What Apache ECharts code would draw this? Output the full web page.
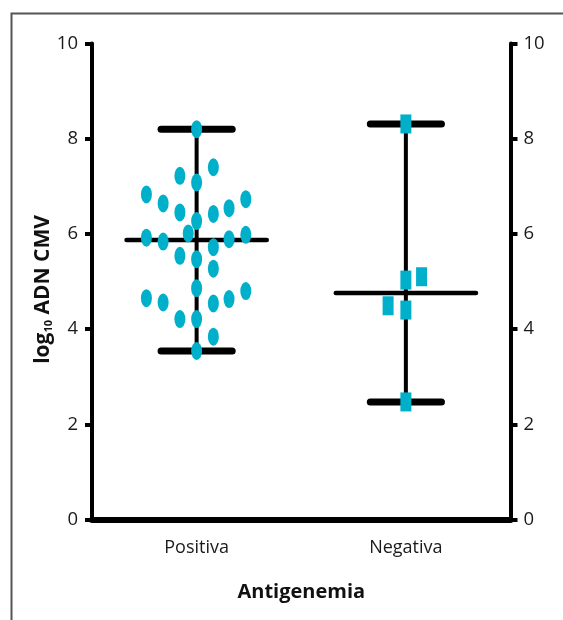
<!DOCTYPE html>
<html>
<head>
<meta charset="utf-8">
<script src="https://cdn.jsdelivr.net/npm/echarts@6/dist/echarts.min.js"></script>
<style>
html,body{margin:0;padding:0;background:#fff;}
#chart{width:563px;height:620px;}
</style>
</head>
<body>
<div id="chart"></div>
<script>
// ---- data ----
const categories = ['Positiva', 'Negativa'];
const yTicks = [0, 2, 4, 6, 8, 10];
// positions on a 0..4 scale (category centres at 1 and 3), jitter
const positivaX = [1.00, 0.84, 1.16, 1.00, 0.52, 0.68, 1.47, 1.31, 0.84, 1.16,
                   1.00, 0.92, 0.52, 0.68, 1.31, 1.47, 1.16, 0.84, 1.00, 1.16,
                   1.00, 0.52, 0.68, 1.47, 1.31, 1.16, 0.84, 1.00, 1.16, 1.00];
const positivaY = [8.20, 7.22, 7.40, 7.08, 6.83, 6.64, 6.73, 6.54, 6.45, 6.42,
                   6.27, 6.01, 5.92, 5.84, 5.89, 5.98, 5.72, 5.54, 5.47, 5.27,
                   4.86, 4.65, 4.56, 4.80, 4.63, 4.54, 4.21, 4.21, 3.84, 3.54];
const negativaX = [3.00, 3.00, 3.15, 2.83, 3.00, 3.00];
const negativaY = [8.31, 5.03, 5.10, 4.49, 4.40, 2.47];
const groupX = [1, 3];
const groupMin = [3.54, 2.47];
const groupMax = [8.20, 8.31];
const groupMedian = [5.87, 4.76];

const cyan = '#00B0CA';
const labelFont = '"Open Sans", "Noto Sans", sans-serif';

const chart = echarts.init(document.getElementById('chart'), null, {renderer: 'canvas'});

const lineData = groupX.map((x, i) => [x, groupMin[i], groupMax[i], groupMedian[i]]);

const option = {
  animation: false,
  backgroundColor: '#fff',
  graphic: [{
    type: 'rect', left: 9, top: 11, z: -10, silent: true,
    shape: {width: 620, height: 700},
    style: {fill: 'none', stroke: '#555', lineWidth: 2}
  }],
  grid: {left: 92, right: 52.5, top: 43.5, bottom: 100.5, containLabel: false},
  xAxis: [{
    type: 'category',
    data: categories,
    boundaryGap: true,
    name: 'Antigenemia',
    nameLocation: 'middle',
    nameGap: 63,
    nameMoveOverlap: false,
    nameTextStyle: {fontFamily: labelFont, fontSize: 20, fontWeight: 'bold', color: '#111'},
    axisLine: {lineStyle: {color: '#000', width: 6}},
    axisTick: {alignWithLabel: true, length: 10, lineStyle: {color: '#000', width: 4}},
    axisLabel: {margin: 19, fontFamily: labelFont, fontSize: 18, color: '#1a1a1a'},
    splitLine: {show: false}
  }, {
    type: 'value', show: false, min: 0, max: 4
  }],
  yAxis: [{
    type: 'value', position: 'left', min: yTicks[0], max: yTicks[yTicks.length - 1], interval: 2,
    name: '{a|log}{s|10}{a| ADN CMV}',
    nameLocation: 'middle', nameGap: 38, nameRotate: 90,
    nameMoveOverlap: false,
    nameTextStyle: {
      padding: [0, 16, 0, 0],
      rich: {
        a: {fontFamily: labelFont, fontSize: 21, fontWeight: 'bold', color: '#111'},
        s: {fontFamily: labelFont, fontSize: 11, fontWeight: 'bold', color: '#111', verticalAlign: 'bottom', padding: [10, 0, 0, 0]}
      }
    },
    axisLine: {show: true, lineStyle: {color: '#000', width: 4}},
    axisTick: {show: true, length: 7, lineStyle: {color: '#000', width: 4}},
    axisLabel: {margin: 14, fontFamily: labelFont, fontSize: 18.5, color: '#1a1a1a'},
    splitLine: {show: false}
  }, {
    type: 'value', position: 'right', min: yTicks[0], max: yTicks[yTicks.length - 1], interval: 2,
    axisLine: {show: true, lineStyle: {color: '#000', width: 4}},
    axisTick: {show: true, length: 7, lineStyle: {color: '#000', width: 4}},
    axisLabel: {margin: 13, fontFamily: labelFont, fontSize: 18.5, color: '#1a1a1a'},
    splitLine: {show: false}
  }],
  series: [{
    type: 'custom',
    xAxisIndex: 1, yAxisIndex: 0,
    z: 2,
    data: lineData,
    renderItem: function (params, api) {
      const x = api.value(0);
      const pMin = api.coord([x, api.value(1)]);
      const pMax = api.coord([x, api.value(2)]);
      const pMed = api.coord([x, api.value(3)]);
      const capHalf = api.size([0.34, 0])[0];
      const medHalf = api.size([0.67, 0])[0];
      const st = (w) => ({stroke: '#000', lineWidth: w, lineCap: 'round'});
      return {
        type: 'group',
        children: [
          {type: 'line', shape: {x1: pMin[0], y1: pMin[1], x2: pMax[0], y2: pMax[1]}, style: st(4)},
          {type: 'line', shape: {x1: pMax[0] - capHalf, y1: pMax[1], x2: pMax[0] + capHalf, y2: pMax[1]}, style: st(7)},
          {type: 'line', shape: {x1: pMin[0] - capHalf, y1: pMin[1], x2: pMin[0] + capHalf, y2: pMin[1]}, style: st(7)},
          {type: 'line', shape: {x1: pMed[0] - medHalf, y1: pMed[1], x2: pMed[0] + medHalf, y2: pMed[1]}, style: st(4.5)}
        ]
      };
    }
  }, {
    type: 'scatter',
    xAxisIndex: 1, yAxisIndex: 0,
    z: 5,
    symbol: 'circle',
    symbolSize: [11, 18],
    itemStyle: {color: cyan, opacity: 1},
    data: positivaX.map((x, i) => [x, positivaY[i]])
  }, {
    type: 'scatter',
    xAxisIndex: 1, yAxisIndex: 0,
    z: 5,
    symbol: 'rect',
    symbolSize: [11, 19],
    itemStyle: {color: cyan, opacity: 1},
    data: negativaX.map((x, i) => [x, negativaY[i]])
  }]
};
chart.setOption(option);
</script>
</body>
</html>
